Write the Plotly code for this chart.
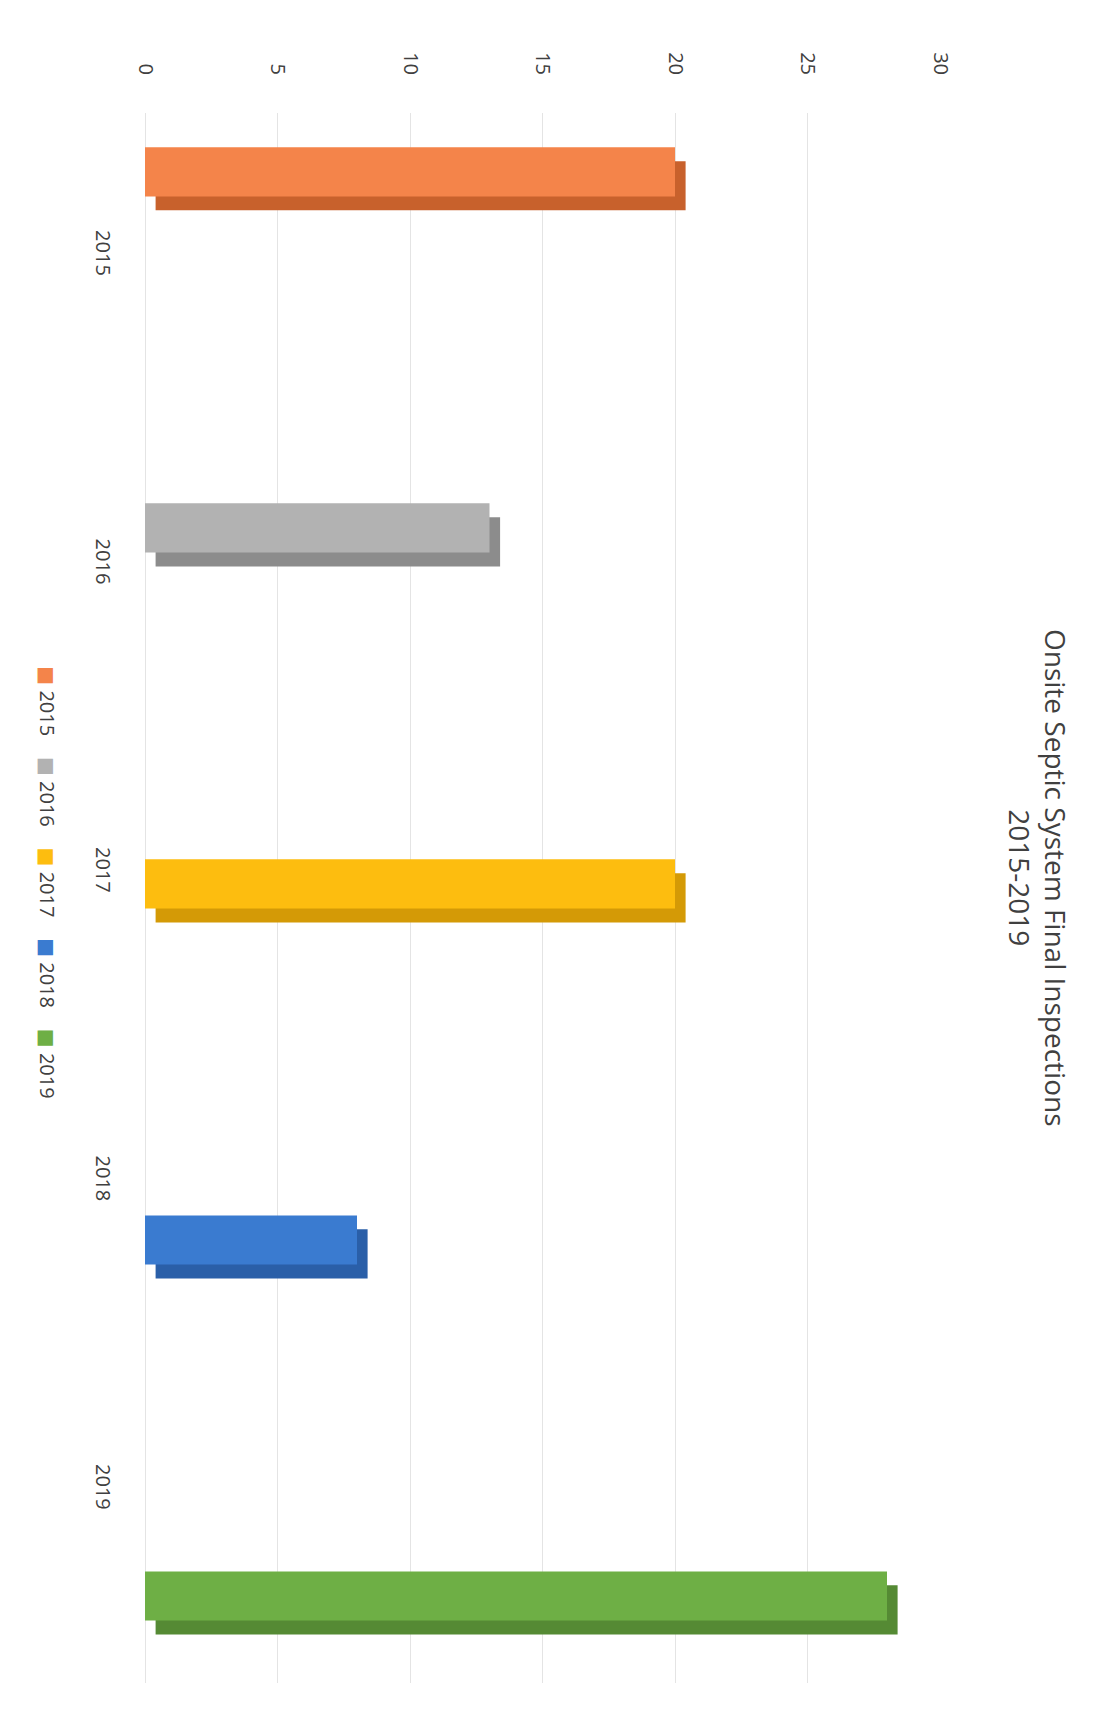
import plotly.graph_objects as go

# ---- data ----
years = ["2015", "2016", "2017", "2018", "2019"]
inspections = [20, 13, 20, 8, 28]
face_colors = ["#F4844A", "#B2B2B2", "#FDBD0F", "#3A7BD0", "#6EAF45"]
side_colors = ["#C8612C", "#8C8C8C", "#D49A06", "#2A5FA8", "#558A34"]
value_ticks = [0, 5, 10, 15, 20, 25, 30]
title_lines = ["Onsite Septic System Final Inspections", "2015-2019"]

FONT = "Open Sans, Noto Sans, DejaVu Sans, sans-serif"
TXT = "#404040"
DEPTH = 0.4  # visual depth of the pseudo-3D side faces (value units)

fig = go.Figure()

# darker side/end faces (pseudo 3D)
fig.add_trace(go.Bar(
    y=years, x=inspections, base=DEPTH, orientation="h",
    width=0.138, offset=-0.0495,
    marker=dict(color=side_colors, line=dict(width=0)),
    showlegend=False, hoverinfo="skip",
))
# front faces
fig.add_trace(go.Bar(
    y=years, x=inspections, orientation="h",
    width=0.138, offset=-0.0885,
    marker=dict(color=face_colors, line=dict(width=0)),
    showlegend=False,
))
# carrier for the category label axis
fig.add_trace(go.Scatter(
    x=[0] * len(years), y=list(range(len(years))), yaxis="y2",
    mode="markers", marker=dict(opacity=0), showlegend=False, hoverinfo="skip",
))

legend_text = "\u00a0\u00a0\u00a0\u00a0".join(
    f'<span style="color:{c}">\u25A0</span>\u00a0{y}' for y, c in zip(years, face_colors)
)

fig.update_layout(
    width=1107, height=1723,
    margin=dict(l=137, r=175, t=105, b=48),
    paper_bgcolor="white", plot_bgcolor="white",
    barmode="overlay",
    font=dict(family=FONT, color=TXT, size=20),
    xaxis=dict(
        range=[0, 30], side="top", tickvals=value_ticks, tickangle=90,
        showgrid=True, gridcolor="#E4E4E4", gridwidth=1,
        zeroline=True, zerolinecolor="#E4E4E4", zerolinewidth=1,
        showline=False, ticks="", ticklabelstandoff=34,
        tickfont=dict(size=20, color=TXT, family=FONT),
    ),
    yaxis=dict(
        type="category", categoryorder="array", categoryarray=years,
        range=[4.225, -0.185], showticklabels=False, showgrid=False,
        zeroline=False, showline=False, ticks="",
    ),
    yaxis2=dict(
        overlaying="y", side="left", range=[4.626, -0.4635],
        tickvals=list(range(len(years))), ticktext=years, tickangle=90,
        showgrid=False, zeroline=False, showline=False, ticks="",
        ticklabelstandoff=28,
        tickfont=dict(size=20, color=TXT, family=FONT),
    ),
    annotations=[
        dict(
            text="<br>".join(title_lines), xref="paper", yref="paper",
            x=1.124, y=0.513, showarrow=False, textangle=90,
            font=dict(size=28, color="#404040", family=FONT),
            xanchor="center", yanchor="middle", align="center",
        ),
        dict(
            text=legend_text, xref="paper", yref="paper",
            x=-0.122, y=0.51, showarrow=False, textangle=90,
            font=dict(size=20, color=TXT, family=FONT),
            xanchor="center", yanchor="middle",
        ),
    ],
)

fig.write_html("out.html")
